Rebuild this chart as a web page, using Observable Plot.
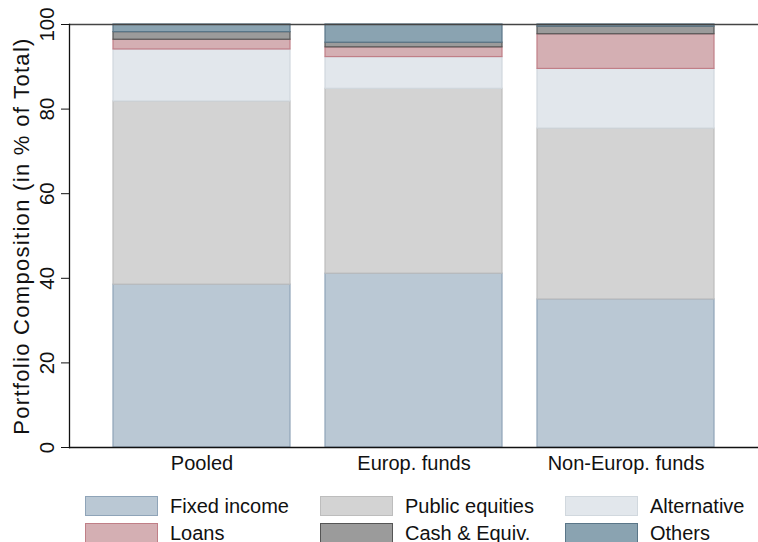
<!DOCTYPE html>
<html>
<head>
<meta charset="utf-8">
<script src="https://cdn.jsdelivr.net/npm/d3@7"></script>
<script src="https://cdn.jsdelivr.net/npm/@observablehq/plot@0.6"></script>
<style>
  html, body { margin: 0; background: #fff; font-family: "Liberation Sans", Arial, sans-serif; }
  #chart { position: relative; width: 758px; height: 542px; overflow: hidden; }
  #chart svg { position: absolute; left: 0; top: 0; }
  #chart svg g[aria-label="text"] text { letter-spacing: 1.3px; }
  .legend { position: absolute; left: 0; top: 496px; width: 758px; height: 60px; }
  .item { position: absolute; display: flex; align-items: center; font-size: 20px; color: #111; height: 20px; }
  .sw { width: 73px; height: 20px; box-sizing: border-box; border: 1px solid; margin-right: 12px; flex: none; }
</style>
</head>
<body>
<div id="chart"></div>
<script>
const categories = ["Pooled", "Europ. funds", "Non-Europ. funds"];
const seriesNames = ["Fixed income", "Public equities", "Alternative", "Loans", "Cash & Equiv.", "Others"];
const fixedIncome    = [38.5, 41.1, 35.0];
const publicEquities = [43.3, 43.7, 40.4];
const alternative    = [12.3, 7.5, 14.1];
const loans          = [2.3, 2.3, 8.2];
const cashEquiv      = [1.8, 1.1, 1.8];
const others         = [1.8, 4.3, 0.5];
const yTicks = [0, 20, 40, 60, 80, 100];

const fills   = ["#bac8d4", "#d3d3d3", "#e2e7ec", "#d4afb3", "#9b9b9b", "#8aa3b1"];
const strokes = ["#8fa4b8", "#bdbdbd", "#d1d8de", "#c07f87", "#555555", "#5a7688"];

const seriesValues = [fixedIncome, publicEquities, alternative, loans, cashEquiv, others];
const data = [];
seriesNames.forEach((s, si) => {
  categories.forEach((c, ci) => {
    data.push({category: c, series: s, value: seriesValues[si][ci], si});
  });
});

const chart = Plot.plot({
  width: 758,
  height: 480,
  marginLeft: 69,
  marginRight: 0,
  marginTop: 24,
  marginBottom: 33,
  style: {fontFamily: "Liberation Sans, Arial, sans-serif", fontSize: "20px", color: "#111", background: "#fff"},
  x: {domain: categories, paddingInner: 0.164, paddingOuter: 0.207, label: null},
  y: {domain: [0, 100], ticks: yTicks, label: null},
  color: {type: "identity"},
  marks: [
    Plot.barY(data, Plot.stackY({
      x: "category",
      y: "value",
      z: "series",
      order: seriesNames,
      fill: d => fills[d.si],
      stroke: d => strokes[d.si],
      strokeWidth: 1.2,
      inset: 0
    })),
    Plot.ruleY([100], {stroke: "#444", strokeWidth: 1.6}),
    Plot.ruleY([0], {stroke: "#111", strokeWidth: 1.3}),
    Plot.frame({anchor: "left", stroke: "#111", strokeWidth: 1.3}),
    Plot.axisX({tickSize: 0, tickPadding: 8, label: null, fontSize: 20}),
    Plot.axisY({ticks: yTicks, tickSize: 8, tickPadding: 8, tickRotate: -90, fontSize: 20.5, label: null}),
    Plot.text(["Portfolio Composition (in % of Total)"], {
      frameAnchor: "left", dx: -48, rotate: -90, fontSize: 22, textAnchor: "middle"
    })
  ]
});

const container = document.getElementById("chart");
container.appendChild(chart);

const legend = document.createElement("div");
legend.className = "legend";
const lefts = [85, 320, 565];
seriesNames.forEach((s, i) => {
  const item = document.createElement("div");
  item.className = "item";
  item.style.left = lefts[i % 3] + "px";
  item.style.top = (Math.floor(i / 3) * 27) + "px";
  const sw = document.createElement("div");
  sw.className = "sw";
  sw.style.background = fills[i];
  sw.style.borderColor = strokes[i];
  const t = document.createElement("span");
  t.textContent = s;
  item.appendChild(sw);
  item.appendChild(t);
  legend.appendChild(item);
});
container.appendChild(legend);
</script>
</body>
</html>
